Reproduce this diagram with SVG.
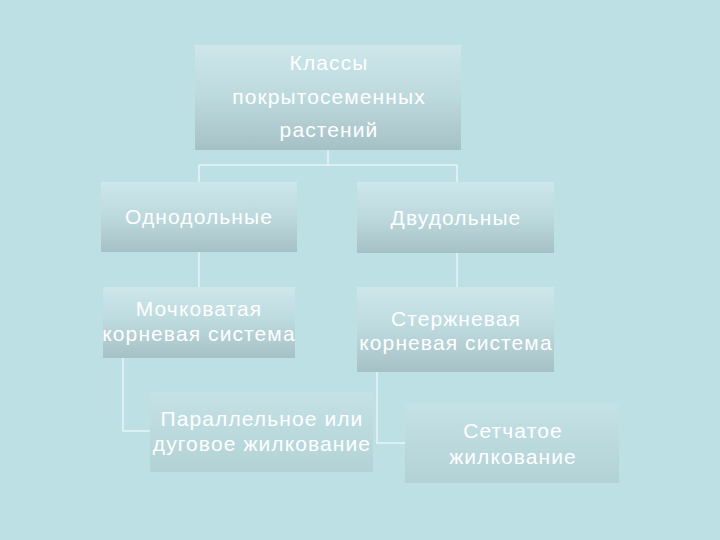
<svg xmlns="http://www.w3.org/2000/svg" width="720" height="540" viewBox="0 0 720 540">
<defs>
<linearGradient id="g" x1="0" y1="0" x2="0" y2="1">
<stop offset="0" stop-color="#cde7eb"/>
<stop offset="0.5" stop-color="#bcd9dd"/>
<stop offset="1" stop-color="#a6c1c5"/>
</linearGradient>
<linearGradient id="g2" x1="0" y1="0" x2="0" y2="1">
<stop offset="0" stop-color="#c4e2e6"/>
<stop offset="1" stop-color="#b3d2d6"/>
</linearGradient>
<style>
.box{fill:url(#g);stroke:none}
.box2{fill:url(#g2);stroke:none}
.t{font-family:"Liberation Sans",Arial,sans-serif;font-size:21px;letter-spacing:1.1px;fill:#ffffff;text-anchor:middle}
.c{fill:none;stroke:#e6f3f5;stroke-width:1.5}
</style>
</defs>
<rect width="720" height="540" fill="#bde0e4"/>
<g id="connectors">
<path class="c" d="M328 150V165M199 165H457M199 165V182M457 165V182"/>
<path class="c" d="M199 252V287"/>
<path class="c" d="M457 253V287"/>
<path class="c" d="M123 358V431H150"/>
<path class="c" d="M377 372V443H405"/>
</g>
<g id="n-root">
<rect class="box" x="195" y="45" width="266" height="105"/>
<text class="t" x="329" y="70">Классы</text>
<text class="t" x="329" y="104">покрытосеменных</text>
<text class="t" x="329" y="137">растений</text>
</g>
<g id="n-mono">
<rect class="box" x="101" y="182" width="196" height="70"/>
<text class="t" x="199" y="224">Однодольные</text>
</g>
<g id="n-di">
<rect class="box" x="357" y="182" width="197" height="71"/>
<text class="t" x="456" y="225">Двудольные</text>
</g>
<g id="n-fibrous">
<rect class="box" x="103" y="287" width="192" height="71"/>
<text class="t" x="199" y="316">Мочковатая</text>
<text class="t" x="199" y="341">корневая система</text>
</g>
<g id="n-tap">
<rect class="box" x="357" y="287" width="197" height="85"/>
<text class="t" x="456" y="326">Стержневая</text>
<text class="t" x="456" y="350">корневая система</text>
</g>
<g id="n-parallel">
<rect class="box2" x="150" y="392" width="223" height="80"/>
<text class="t" x="262" y="426">Параллельное или</text>
<text class="t" x="262" y="451">дуговое жилкование</text>
</g>
<g id="n-net">
<rect class="box2" x="405" y="403" width="214" height="80"/>
<text class="t" x="513" y="438">Сетчатое</text>
<text class="t" x="513" y="464">жилкование</text>
</g>
</svg>
